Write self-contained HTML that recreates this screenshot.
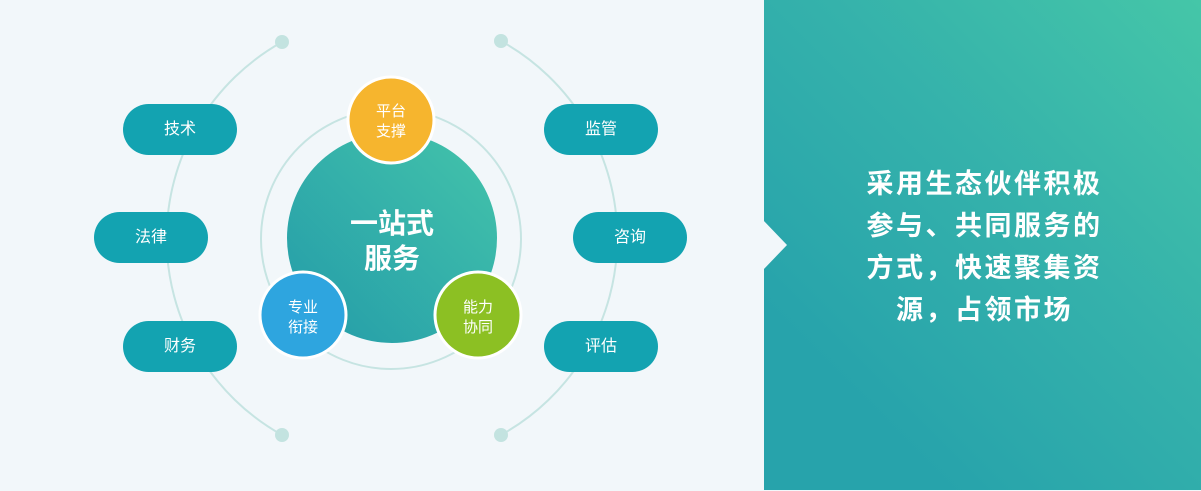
<!DOCTYPE html>
<html><head><meta charset="utf-8"><style>
html,body{margin:0;padding:0;}
body{width:1201px;height:491px;background:#f2f7fa;position:relative;overflow:hidden;font-family:"Liberation Sans","Noto Sans CJK SC",sans-serif;}
.panel{position:absolute;left:764px;top:0;width:437px;height:490px;background:linear-gradient(225deg,#45c6a8 0%,#35b2ab 40%,#27a3ab 80%);}
.txt{position:absolute;left:766px;top:163px;width:437px;text-align:center;color:#fff;font-size:27px;font-weight:bold;line-height:42px;letter-spacing:2.5px;}
.pill{position:absolute;width:114px;height:51px;border-radius:26px;background:#13a3b1;color:#fff;font-size:16px;text-align:center;line-height:51px;}
</style></head><body>
<svg width="1201" height="491" style="position:absolute;left:0;top:0">
<defs><linearGradient id="g" x1="1" y1="0" x2="0" y2="1"><stop offset="0" stop-color="#44c4aa"/><stop offset="1" stop-color="#239ba9"/></linearGradient></defs>
<path d="M282 42 A225 225 0 0 0 282 435" fill="none" stroke="#c6e4e2" stroke-width="2"/>
<path d="M501 41 A225 225 0 0 1 501 435" fill="none" stroke="#c6e4e2" stroke-width="2"/>
<circle cx="282" cy="42" r="7" fill="#c3e3e0"/><circle cx="282" cy="435" r="7" fill="#c3e3e0"/>
<circle cx="501" cy="41" r="7" fill="#c3e3e0"/><circle cx="501" cy="435" r="7" fill="#c3e3e0"/>
<circle cx="391" cy="239" r="130" fill="none" stroke="#c6e4e2" stroke-width="2"/>
<circle cx="392" cy="238" r="105" fill="url(#g)"/>
<circle cx="391" cy="120" r="43" fill="#f6b52e" stroke="#fff" stroke-width="3"/>
<circle cx="303" cy="315" r="43" fill="#2ea5df" stroke="#fff" stroke-width="3"/>
<circle cx="478" cy="315" r="43" fill="#8cc023" stroke="#fff" stroke-width="3"/>
<g fill="#fff" font-family="Liberation Sans,Noto Sans CJK SC,sans-serif" text-anchor="middle">
<text x="392" y="233" font-size="28" font-weight="bold">一站式</text>
<text x="392" y="268" font-size="28" font-weight="bold">服务</text>
<text x="391" y="116" font-size="15">平台</text><text x="391" y="136" font-size="15">支撑</text>
<text x="303" y="312" font-size="15">专业</text><text x="303" y="332" font-size="15">衔接</text>
<text x="478" y="312" font-size="15">能力</text><text x="478" y="332" font-size="15">协同</text>
</g>
</svg>
<div class="pill" style="left:123px;top:104px">技术</div>
<div class="pill" style="left:94px;top:212px">法律</div>
<div class="pill" style="left:123px;top:321px">财务</div>
<div class="pill" style="left:544px;top:104px">监管</div>
<div class="pill" style="left:573px;top:212px">咨询</div>
<div class="pill" style="left:544px;top:321px">评估</div>
<div class="panel"></div>
<svg width="30" height="60" style="position:absolute;left:763px;top:215px"><polygon points="0,5 24,30 0,55" fill="#f2f7fa"/></svg>
<div class="txt">采用生态伙伴积极<br>参与、共同服务的<br>方式，快速聚集资<br>源，占领市场</div>
</body></html>
